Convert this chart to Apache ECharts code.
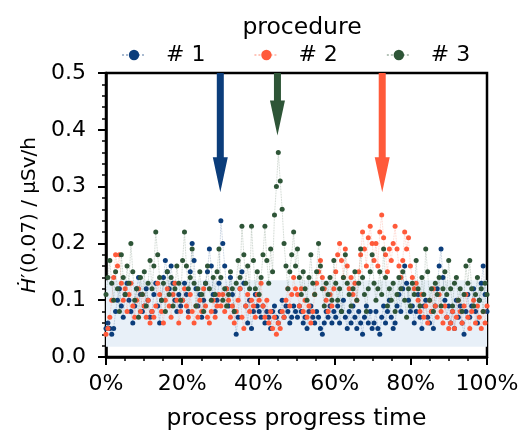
<!DOCTYPE html>
<html>
<head>
<meta charset="utf-8">
<script src="https://cdn.jsdelivr.net/npm/echarts@6/dist/echarts.min.js"></script>
<style>html,body{margin:0;padding:0;background:#fff;}#c{width:522px;height:431px;}</style>
</head>
<body>
<div id="c"></div>
<script>
// ---- data (dose rate in µSv/h, sampled uniformly over process progress time) ----
var seriesNames = ['# 1', '# 2', '# 3'];
var seriesColors = ['#0b3d7b', '#ff5a3a', '#2e5537'];

var proc1 = [
0.05,0.06,0.05,0.04,0.05,0.08,0.10,0.12,0.09,0.07,0.11,0.13,0.10,0.08,0.06,0.09,0.12,0.14,0.11,0.08,
0.09,0.12,0.10,0.07,0.08,0.11,0.13,0.09,0.06,0.10,0.14,0.17,0.15,0.12,0.16,0.13,0.10,0.08,0.11,0.09,
0.10,0.13,0.11,0.08,0.15,0.20,0.17,0.12,0.09,0.11,0.07,0.10,0.13,0.15,0.19,0.16,0.11,0.08,0.10,0.13,
0.24,0.20,0.16,0.12,0.09,0.14,0.11,0.08,0.04,0.07,0.12,0.15,0.13,0.09,0.06,0.10,0.05,0.08,0.11,0.09,
0.08,0.07,0.09,0.06,0.08,0.07,0.05,0.08,0.09,0.07,0.06,0.08,0.10,0.07,0.09,0.08,0.06,0.07,0.09,0.08,
0.07,0.09,0.08,0.06,0.07,0.05,0.08,0.09,0.07,0.06,0.08,0.07,0.05,0.04,0.06,0.08,0.07,0.09,0.06,0.08,
0.07,0.09,0.06,0.08,0.10,0.07,0.05,0.08,0.06,0.09,0.07,0.05,0.08,0.06,0.04,0.07,0.09,0.06,0.08,0.05,
0.06,0.08,0.05,0.04,0.07,0.09,0.06,0.08,0.10,0.07,0.05,0.06,0.09,0.11,0.08,0.12,0.16,0.13,0.10,0.08,
0.09,0.06,0.08,0.11,0.07,0.05,0.09,0.10,0.07,0.06,0.08,0.05,0.09,0.12,0.16,0.19,0.14,0.10,0.07,0.09,
0.06,0.08,0.05,0.10,0.07,0.09,0.06,0.04,0.08,0.11,0.07,0.09,0.12,0.08,0.06,0.10,0.13,0.16,0.11,0.08
];
var proc2 = [
0.04,0.05,0.07,0.10,0.14,0.18,0.16,0.18,0.13,0.10,0.12,0.08,0.11,0.13,0.09,0.07,0.10,0.12,0.08,0.11,
0.09,0.07,0.10,0.06,0.08,0.07,0.09,0.13,0.11,0.08,0.06,0.10,0.12,0.09,0.07,0.11,0.13,0.10,0.06,0.08,
0.10,0.12,0.09,0.07,0.11,0.08,0.06,0.09,0.07,0.10,0.08,0.12,0.09,0.07,0.06,0.08,0.10,0.07,0.09,0.11,
0.09,0.11,0.08,0.12,0.10,0.07,0.09,0.06,0.08,0.10,0.12,0.07,0.05,0.09,0.11,0.08,0.10,0.09,0.07,0.11,
0.10,0.13,0.09,0.07,0.10,0.06,0.08,0.05,0.07,0.04,0.06,0.05,0.08,0.07,0.10,0.12,0.09,0.11,0.14,0.12,
0.11,0.09,0.12,0.08,0.10,0.07,0.09,0.06,0.08,0.11,0.13,0.15,0.17,0.14,0.12,0.10,0.08,0.11,0.09,0.12,
0.15,0.18,0.20,0.17,0.14,0.19,0.16,0.12,0.14,0.11,0.13,0.10,0.15,0.18,0.22,0.19,0.16,0.21,0.23,0.20,
0.17,0.20,0.16,0.22,0.25,0.21,0.18,0.15,0.19,0.17,0.20,0.23,0.19,0.16,0.14,0.17,0.22,0.19,0.21,0.16,
0.14,0.12,0.13,0.10,0.08,0.11,0.07,0.09,0.06,0.10,0.08,0.12,0.09,0.07,0.11,0.08,0.06,0.09,0.07,0.05,
0.06,0.08,0.05,0.07,0.10,0.08,0.06,0.09,0.11,0.07,0.05,0.08,0.10,0.06,0.09,0.07,0.05,0.08,0.06,0.09
];
var proc3 = [
0.11,0.14,0.17,0.13,0.10,0.15,0.12,0.08,0.18,0.14,0.11,0.16,0.13,0.20,0.15,0.10,0.12,0.07,0.14,0.11,
0.15,0.09,0.13,0.17,0.12,0.16,0.22,0.18,0.14,0.10,0.13,0.08,0.15,0.11,0.14,0.09,0.12,0.16,0.13,0.10,
0.17,0.22,0.16,0.12,0.14,0.19,0.13,0.09,0.12,0.15,0.11,0.08,0.13,0.16,0.12,0.10,0.14,0.11,0.15,0.19,
0.14,0.10,0.12,0.09,0.11,0.15,0.12,0.08,0.13,0.17,0.14,0.23,0.18,0.13,0.16,0.12,0.23,0.17,0.12,0.15,
0.11,0.14,0.18,0.23,0.17,0.13,0.19,0.15,0.25,0.30,0.36,0.31,0.26,0.20,0.16,0.12,0.15,0.18,0.22,0.16,
0.19,0.14,0.11,0.15,0.12,0.10,0.14,0.18,0.13,0.11,0.15,0.20,0.16,0.12,0.09,0.13,0.11,0.14,0.10,0.17,
0.13,0.10,0.12,0.08,0.14,0.18,0.13,0.11,0.09,0.12,0.15,0.10,0.13,0.19,0.14,0.11,0.08,0.12,0.15,0.18,
0.13,0.10,0.12,0.15,0.11,0.19,0.14,0.09,0.12,0.10,0.13,0.08,0.11,0.14,0.12,0.15,0.10,0.07,0.12,0.09,
0.13,0.11,0.17,0.12,0.09,0.14,0.11,0.19,0.15,0.10,0.12,0.08,0.13,0.11,0.14,0.09,0.12,0.15,0.11,0.17,
0.12,0.09,0.13,0.14,0.10,0.12,0.08,0.11,0.16,0.13,0.17,0.12,0.09,0.11,0.14,0.10,0.12,0.08,0.13,0.11
];

// annotation arrows: x position (%), tip value, top value
var arrowX = [30, 45, 72.5];
var arrowTip = [0.29, 0.39, 0.29];
var arrowTop = [0.5, 0.5, 0.5];
var arrowSeries = [0, 2, 1];
// shaded band (µSv/h)
var bandRange = [0.018, 0.135];

var xTicks = [0, 20, 40, 60, 80, 100];
var yTicks = [0, 0.1, 0.2, 0.3, 0.4, 0.5];

function toPairs(vals) {
  var n = vals.length, out = [];
  for (var i = 0; i < n; i++) out.push([i * 100 / (n - 1), vals[i]]);
  return out;
}

var FONT = 'DejaVu Sans';
var chart = echarts.init(document.getElementById('c'), null, {renderer: 'canvas'});

var lineSeries = [proc1, proc2, proc3].map(function (vals, k) {
  return {
    name: seriesNames[k],
    type: 'line',
    data: toPairs(vals),
    symbol: 'circle',
    symbolSize: 5,
    showSymbol: true,
    animation: false,
    itemStyle: {color: seriesColors[k]},
    lineStyle: {color: seriesColors[k], width: 0.8, type: 'dotted', opacity: 0.35},
    z: 3 + k
  };
});

var option = {
  animation: false,
  title: {
    text: 'procedure', left: 297, top: 11, textAlign: 'center',
    textStyle: {fontFamily: FONT, fontSize: 23.5, fontWeight: 'normal', color: '#000'}
  },
  legend: {
    data: seriesNames,
    top: 39, left: 116,
    itemWidth: 24, itemHeight: 13, itemGap: 48,
    textStyle: {fontFamily: FONT, fontSize: 22, color: '#000', padding: [0, 0, 0, 15]}
  },
  grid: {left: 106, right: 35, top: 73, bottom: 74, show: true, borderColor: '#000', borderWidth: 2.5,
    backgroundColor: 'transparent', containLabel: false, outerBoundsMode: 'none'},
  xAxis: {
    type: 'value', min: xTicks[0], max: xTicks[xTicks.length - 1], interval: 20,
    name: 'process progress time', nameLocation: 'middle', nameGap: 50,
    nameTextStyle: {fontFamily: FONT, fontSize: 23.5, color: '#000'},
    axisLine: {show: true, lineStyle: {color: '#000', width: 2.5}},
    axisTick: {show: true, length: 8, lineStyle: {color: '#000', width: 2}},
    minorTick: {show: true, splitNumber: 4, length: 4, lineStyle: {color: '#000', width: 1.5}},
    splitLine: {show: false},
    axisLabel: {fontFamily: FONT, fontSize: 22, color: '#000', margin: 16, formatter: '{value}%'}
  },
  yAxis: {
    type: 'value', min: yTicks[0], max: yTicks[yTicks.length - 1], interval: 0.1,
    name: '{i|Ḣ}′(0.07) / µSv/h', nameLocation: 'middle', nameGap: 57, nameRotate: 90,
    nameTextStyle: {fontFamily: FONT, fontSize: 20, color: '#000',
      rich: {i: {fontFamily: FONT, fontSize: 20, fontStyle: 'italic', color: '#000'}}},
    axisLine: {show: true, lineStyle: {color: '#000', width: 2.5}},
    axisTick: {show: true, length: 8, lineStyle: {color: '#000', width: 2}},
    minorTick: {show: true, splitNumber: 5, length: 4, lineStyle: {color: '#000', width: 1.5}},
    splitLine: {show: false},
    axisLabel: {fontFamily: FONT, fontSize: 22, color: '#000', margin: 20,
      formatter: function (v) { return v.toFixed(1); }}
  },
  series: [{
    name: 'band', type: 'line', data: [], silent: true, z: 1,
    markArea: {silent: true, itemStyle: {color: '#e8f0f8'},
      data: [[{yAxis: bandRange[0], x: 106}, {yAxis: bandRange[1], x: 487}]]}
  }].concat(lineSeries).concat([{
    name: 'arrows', type: 'custom', z: 10, silent: true,
    data: arrowX.map(function (x, i) { return [x, arrowTip[i], arrowTop[i]]; }),
    encode: {x: 0, y: [1, 2]},
    renderItem: function (params, api) {
      var tip = api.coord([api.value(0), api.value(1)]);
      var top = api.coord([api.value(0), api.value(2)]);
      var cx = tip[0], shaftW = 3.5, headW = 7.5, headL = 35;
      var headY = tip[1] - headL;
      return {
        type: 'polygon',
        shape: {points: [
          [cx - shaftW, top[1]], [cx + shaftW, top[1]], [cx + shaftW, headY],
          [cx + headW, headY], [cx, tip[1]], [cx - headW, headY], [cx - shaftW, headY]
        ]},
        style: {fill: seriesColors[arrowSeries[params.dataIndex]]}
      };
    }
  }])
};
chart.setOption(option);
</script>
</body>
</html>
